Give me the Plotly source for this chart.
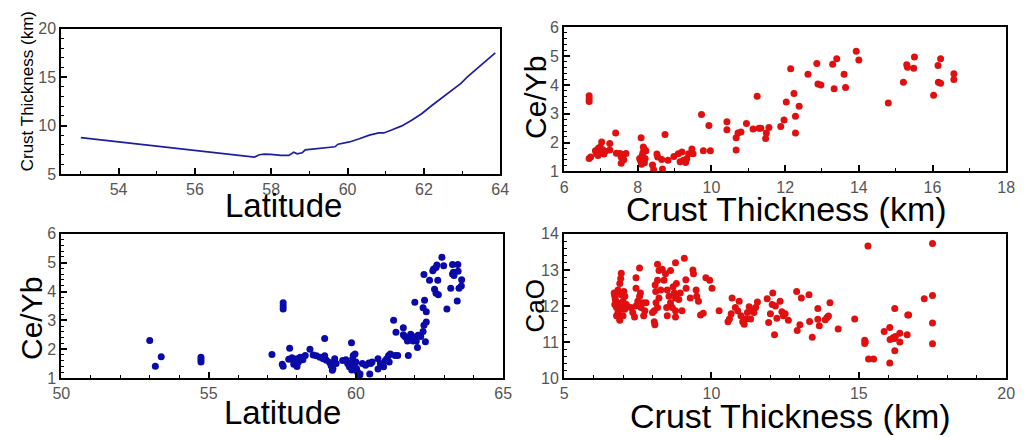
import plotly.graph_objects as go

# ---------------- data ----------------
lat1 = [53.01, 57.56, 57.69, 57.82, 57.99, 58.25, 58.46, 58.59, 58.68, 58.81, 58.89, 59.11,
        59.36, 59.67, 59.75, 60.05, 60.31, 60.57, 60.82, 60.95, 61.17, 61.42, 61.68, 61.94,
        62.20, 62.45, 62.71, 62.97, 63.14, 63.31, 63.57, 63.79, 63.87]
crust1 = [8.75, 6.75, 6.99, 7.05, 7.02, 6.92, 6.92, 7.25, 7.09, 7.19, 7.50, 7.58,
          7.68, 7.81, 8.08, 8.31, 8.64, 9.01, 9.24, 9.24, 9.57, 9.97, 10.56, 11.23,
          12.05, 12.78, 13.61, 14.37, 15.03, 15.60, 16.46, 17.19, 17.52]

ct2 = [6.68, 6.68, 6.68, 6.68, 6.72,
       6.85, 6.88, 6.92, 6.93, 6.97, 6.98, 7.02, 7.05, 7.08, 7.12,
       7.24, 7.24, 7.40, 7.42, 7.52, 7.55, 7.55, 7.60, 7.68, 7.62,
       8.09, 8.05, 8.08, 8.12, 8.14, 8.17, 8.10, 8.18, 8.20, 8.22, 8.15,
       8.40, 8.43, 8.52, 8.54, 8.67, 8.65, 8.74, 8.82, 8.98,
       9.10, 9.20, 9.15, 9.24, 9.33, 9.38, 9.30, 9.47, 9.50,
       9.73, 9.78, 9.93, 9.97,
       10.42, 10.42, 10.67, 10.67, 10.72, 10.80, 10.95, 11.13, 11.24, 11.29, 11.34, 11.49, 11.47, 11.56,
       11.88, 11.97, 12.03, 12.15, 12.24, 12.28, 12.28, 12.38, 12.62, 12.86, 12.89, 12.97, 13.29, 13.40,
       13.33, 13.60, 13.64, 13.93, 14.00, 14.80, 15.21, 15.30, 15.32, 15.51, 15.49, 16.03, 16.15, 16.22,
       16.16, 16.22, 16.58, 16.58]
ceyb2 = [3.62, 3.52, 3.42, 1.45, 1.50,
         1.72, 1.62, 1.55, 1.80, 1.65, 1.85, 2.02, 1.75, 1.60, 1.70,
         1.97, 1.74, 2.33, 1.63, 1.62, 1.50, 1.28, 1.58, 1.62, 1.40,
         2.17, 1.45, 1.35, 1.55, 1.65, 1.78, 1.25, 1.30, 1.45, 1.72, 1.85,
         1.22, 1.06, 1.60, 1.50, 1.08, 1.41, 2.28, 1.39, 1.52,
         1.61, 1.67, 1.33, 1.39, 1.44, 1.61, 1.31, 1.78, 1.61,
         2.97, 1.72, 2.59, 1.72,
         2.72, 2.44, 1.74, 2.17, 2.33, 2.37, 2.66, 2.47, 3.61, 2.50, 2.50, 2.33, 2.14, 2.52,
         2.56, 2.78, 3.41, 4.56, 3.70, 2.91, 2.33, 3.26, 4.37, 4.74, 4.03, 4.00, 4.72, 4.91,
         3.87, 4.37, 3.91, 5.17, 4.86, 3.37, 4.09, 4.70, 4.61, 4.97, 4.58, 3.64, 4.67, 4.91,
         4.09, 4.06, 4.39, 4.19]

lat3 = [53.00, 53.19, 53.39, 54.74, 54.74, 54.74,
        57.15, 57.50, 57.53, 57.53, 57.53, 57.53,
        57.75, 57.72, 57.83, 57.89, 57.94, 58.00, 58.05, 58.11, 58.20, 58.28, 58.00, 57.89,
        58.44, 58.55, 58.66, 58.78, 58.89, 58.94, 59.00, 59.11, 59.16, 59.22, 59.28, 59.33, 59.20, 58.94,
        59.55, 59.66, 59.72, 59.78, 59.83, 59.86, 59.89, 59.91, 59.94, 59.97, 60.00, 60.02, 60.05,
        60.09, 60.11, 60.14, 59.85,
        60.22, 60.33, 60.44, 60.50, 60.55, 60.47, 60.75, 60.75, 60.83,
        60.94, 61.00, 61.05, 61.11, 61.13, 61.17, 61.33, 61.42,
        61.28, 61.36, 61.61, 61.61, 61.66, 61.72, 61.75, 61.78,
        61.86, 61.89, 61.94, 62.00, 62.05, 62.09, 62.11, 62.20, 62.28, 62.36,
        62.00, 62.28, 62.33, 62.39, 62.31, 62.39,
        62.31, 62.50, 62.61, 62.64, 62.72, 62.75, 62.67, 62.72, 62.78, 62.80,
        62.92, 62.98, 63.09, 63.22, 63.28, 63.28, 63.33, 63.31, 63.46, 63.47, 63.44, 63.50, 63.58, 63.59]
ceyb3 = [2.30, 1.41, 1.74, 1.72, 1.63, 1.56,
         1.82, 1.48, 1.41, 3.61, 3.50, 3.39,
         2.03, 1.65, 1.70, 1.59, 1.50, 1.67, 1.56, 1.72, 1.63, 1.78, 1.40, 1.48,
         2.00, 1.80, 1.77, 1.72, 1.67, 1.77, 1.62, 1.54, 1.43, 1.32, 1.67, 1.50, 1.27, 2.37,
         1.61, 1.63, 1.50, 1.39, 1.52, 1.28, 1.67, 1.78, 1.45, 1.83, 1.56, 1.33, 1.22,
         1.11, 1.06, 1.14, 2.22,
         1.50, 1.44, 1.52, 1.50, 1.56, 1.14, 1.31, 1.67, 1.50,
         1.39, 1.61, 1.67, 1.78, 1.56, 1.83, 1.78, 1.78,
         3.00, 2.59, 2.74, 2.50, 2.44, 2.39, 2.28, 1.78,
         2.52, 2.39, 2.28, 2.42, 2.28, 2.06, 2.48, 2.44, 2.61, 2.26,
         3.63, 3.44, 3.70, 3.30, 2.83, 2.94,
         4.59, 4.39, 4.72, 4.78, 4.83, 4.92, 4.08, 3.94, 4.39, 3.89,
         5.19, 4.89, 3.39, 4.11, 4.94, 4.61, 4.56, 4.67, 4.94, 4.70, 3.67, 4.11, 4.19, 4.41]

ct4 = [6.94, 6.92, 6.89, 6.83, 6.78, 6.72, 6.74, 6.81, 6.89, 6.94, 6.83, 6.78, 6.89, 7.00, 7.06,
       7.11, 7.00, 7.06, 6.94, 6.89, 6.72, 6.78, 7.03, 6.70,
       7.26, 7.33, 7.39, 7.44, 7.50, 7.56, 7.59, 7.61, 7.67, 7.70, 7.74, 7.78, 7.44, 7.44, 7.56,
       8.06, 8.08, 8.00, 8.06, 8.11, 8.17, 8.09, 8.12, 8.17, 8.22, 8.28, 8.22, 8.17, 8.33, 8.39,
       8.44, 8.50, 8.56, 8.61, 8.67, 8.70, 8.74, 8.78, 8.81, 8.61, 8.78, 8.48, 8.50, 8.78, 8.78,
       9.00, 9.08, 9.13, 9.14, 8.89, 8.94, 9.37, 9.39, 9.28, 9.48, 9.50, 9.56, 9.63, 9.72, 9.81,
       9.94, 10.02, 10.26,
       10.56, 10.61, 10.67, 10.70, 10.81, 10.89, 10.94, 11.00, 11.06, 11.11, 11.17, 11.22, 11.28,
       11.33, 11.37, 11.44, 11.50, 11.56,
       11.89, 11.94, 12.00, 12.06, 12.08, 12.14, 12.17, 12.22, 12.39,
       12.33, 12.44, 12.50, 12.61,
       12.89, 13.05, 13.31, 13.00, 12.91, 13.33, 13.42, 13.61, 13.61, 13.66, 13.86, 13.92, 13.97,
       14.02, 14.30, 14.86, 15.20, 15.20, 15.22, 15.31, 15.33, 15.50, 15.86, 16.05, 16.06, 16.05,
       16.22, 16.20, 16.24, 16.16, 16.22, 16.39, 16.39, 16.66, 16.69, 16.64, 17.22, 17.50, 17.50,
       17.50, 17.50]
cao4 = [12.91, 12.76, 12.62, 12.44, 12.36, 12.27, 12.18, 12.09, 12.00, 11.91, 11.82, 11.73, 11.64,
        11.73, 11.91, 12.04, 12.13, 12.27, 12.31, 11.60, 12.04, 11.96, 12.40, 12.36,
        11.96, 11.82, 11.69, 12.00, 12.13, 12.27, 12.36, 11.96, 12.09, 11.73, 11.87, 12.09, 12.49,
        12.78, 13.05,
        11.56, 11.48, 11.82, 11.87, 12.40, 12.71, 12.58, 12.09, 11.96, 12.22, 12.44, 12.98, 13.16,
        13.02, 12.71, 12.89, 12.44, 12.27, 12.09, 11.96, 12.53, 12.36, 12.22, 12.62, 12.98, 13.20,
        11.96, 11.73, 11.87, 11.69,
        11.87, 13.32, 12.73, 12.49, 12.18, 12.36, 13.00, 12.89, 12.22, 12.44, 12.27, 12.13, 11.75,
        11.80, 12.78, 12.71, 12.49, 11.87,
        11.56, 11.64, 11.78, 12.22, 11.96, 11.87, 12.13, 11.73, 11.56, 11.49, 11.64, 11.82, 11.98,
        11.64, 11.87, 11.82, 11.96, 12.11,
        12.20, 11.54, 11.78, 12.04, 12.36, 11.20, 12.00, 11.66, 11.84,
        12.13, 11.73, 11.78, 11.60,
        12.40, 12.22, 12.31, 11.48, 11.32, 11.57, 11.13, 11.93, 11.63, 11.45, 11.62, 11.68, 11.72,
        12.09, 11.36, 11.64, 11.05, 10.96, 11.00, 13.66, 10.53, 10.53, 11.29, 11.40, 11.07, 10.42,
        11.93, 11.10, 11.15, 11.12, 10.76, 11.24, 11.00, 11.75, 11.75, 11.20, 12.20, 13.73, 12.29,
        11.53, 10.95]

# ---------------- figure ----------------
W, H = 1026, 437
FONT = "Liberation Sans, Arial, sans-serif"
RED = "#e01010"
BLUE = "#0a0aa8"

fig = go.Figure()
fig.add_trace(go.Scatter(x=lat1, y=crust1, mode="lines",
                         line=dict(color="#1e1ea0", width=1.7), xaxis="x", yaxis="y"))
fig.add_trace(go.Scatter(x=ct2, y=ceyb2, mode="markers",
                         marker=dict(color=RED, size=7), xaxis="x2", yaxis="y2"))
fig.add_trace(go.Scatter(x=lat3, y=ceyb3, mode="markers",
                         marker=dict(color=BLUE, size=7), xaxis="x3", yaxis="y3"))
fig.add_trace(go.Scatter(x=ct4, y=cao4, mode="markers",
                         marker=dict(color=RED, size=7), xaxis="x4", yaxis="y4"))


def px_x(p):
    return p / W


def px_y(p):
    return 1 - p / H


def axis(domain, rng, dtick, minor, anchor, tick0=None):
    d = dict(domain=domain, range=rng, dtick=dtick, anchor=anchor,
             showgrid=False, zeroline=False, showline=True, linecolor="black",
             linewidth=2, mirror=True, ticks="inside", ticklen=6, tickwidth=1.5,
             tickcolor="black", tickfont=dict(family=FONT, size=16, color="#555555"),
             minor=dict(dtick=minor, ticks="inside", ticklen=3, tickwidth=1,
                        tickcolor="black", showgrid=False))
    if tick0 is not None:
        d["tick0"] = tick0
    return d


L1, R1 = px_x(53.3), px_x(500)
L2, R2 = px_x(565), px_x(1015)
L3, R3 = px_x(53.3), px_x(503)

fig.update_layout(
    width=W, height=H, margin=dict(l=0, r=0, t=0, b=0),
    paper_bgcolor="white", plot_bgcolor="white", showlegend=False,
    xaxis=axis([L1, R1], [52.5, 64.0001], 2, 1, "y", tick0=54),
    yaxis=axis([px_y(172.7), px_y(21.7)], [5, 20.0001], 5, 1, "x"),
    xaxis2=axis([L2, R2], [6, 18.0001], 2, 1, "y2"),
    yaxis2=axis([px_y(170), px_y(20)], [1, 6.0001], 1, 0.2, "x2"),
    xaxis3=axis([L3, R3], [50, 65.0001], 5, 1, "y3"),
    yaxis3=axis([px_y(385), px_y(235)], [1, 6.0001], 1, 0.2, "x3"),
    xaxis4=axis([L2, R2], [5, 20.0001], 5, 1, "y4"),
    yaxis4=axis([px_y(385), px_y(235)], [10, 14.0001], 1, 0.2, "x4"),
)


def label(text, x, y, size, angle=0):
    fig.add_annotation(text=text, x=px_x(x), y=px_y(y), xref="paper", yref="paper",
                       xanchor="center", yanchor="middle", showarrow=False,
                       textangle=angle, font=dict(family=FONT, size=size, color="black"))


label("Latitude", 279, 206, 33)
label("Crust Thickness (km)", 791, 209, 34)
label("Latitude", 278, 421, 33)
label("Crust Thickness (km)", 795, 425, 34)
label("Crust Thickness (km)", 19, 87, 17, -90)
label("Ce/Yb", 536, 93, 30, -90)
label("Ce/Yb", 23, 323, 30, -90)
label("CaO", 535, 310, 26, -90)

fig.write_html("out.html")
